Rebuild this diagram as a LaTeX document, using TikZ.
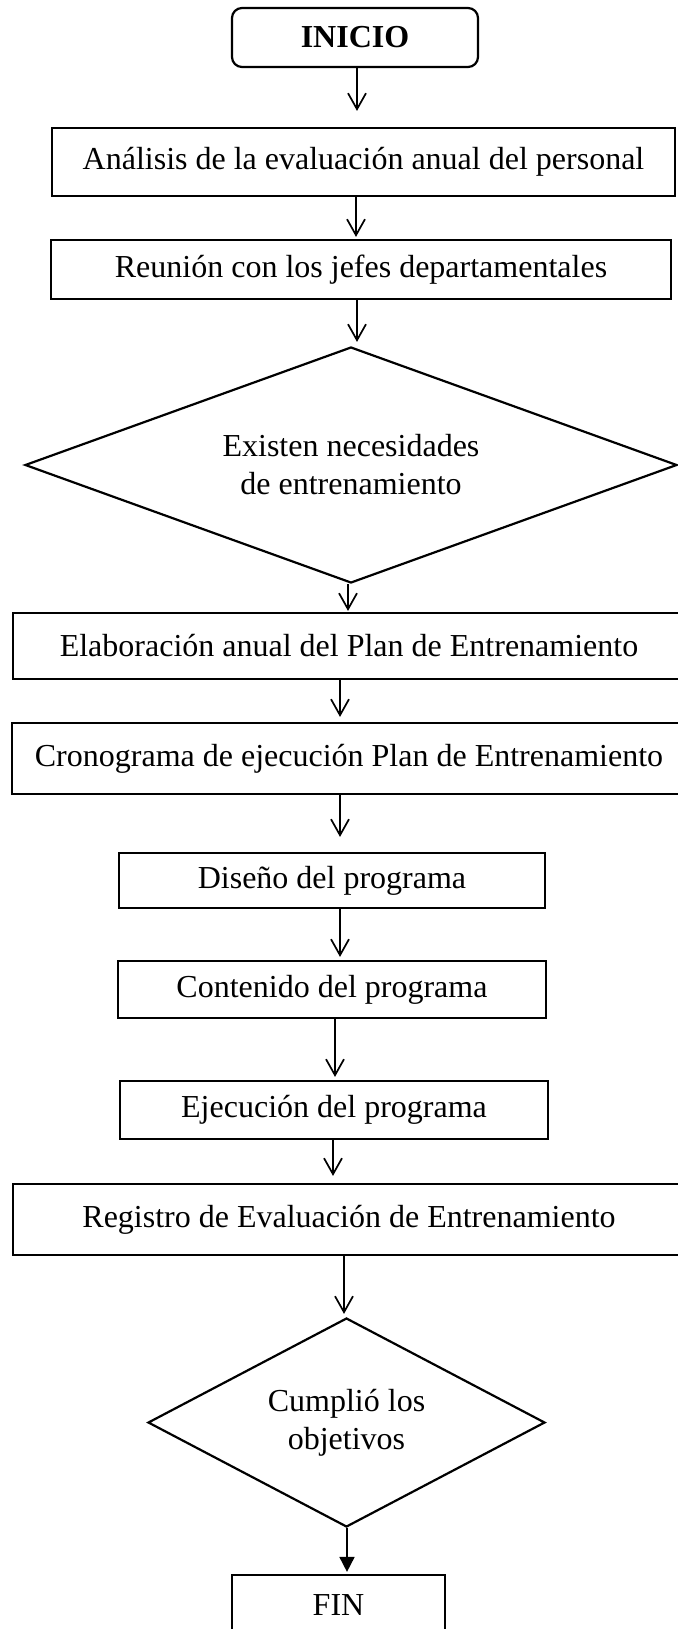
\documentclass[tikz,border=0pt]{standalone}
\usepackage{fontspec}
\setmainfont{Liberation Serif}
\usetikzlibrary{shapes.geometric,arrows.meta}

\begin{document}
\begin{tikzpicture}[
      x=0.5pt, y=-0.5pt,
      every node/.style={font=\fontsize{16pt}{19pt}\selectfont, align=center, inner sep=2pt},
      caja/.style={rectangle, draw=black, line width=1.1pt},
      inicial/.style={caja, rounded corners=5pt},
      decision/.style={diamond, draw=black, line width=1.1pt, inner sep=0pt},
      pointer/.style={line width=0.85pt, -{Straight Barb[length=8pt,width=9pt]}, draw=black},
      fpointer/.style={line width=0.85pt, -{Triangle[length=7.5pt,width=7.5pt]}, draw=black}
      ]
      \useasboundingbox (0,0) rectangle (677,1629);
      \node[inicial, minimum width=123pt, minimum height=29.5pt] (inicio) at (355,37.5) {\textbf{INICIO}};
      \node[caja, minimum width=311.5pt, minimum height=34pt] (analisis) at (363.5,162) {Análisis de la evaluación anual del personal};
      \node[caja, minimum width=310pt, minimum height=29.5pt] (reunion) at (361,269.5) {Reunión con los jefes departamentales};
      \node[decision, aspect=2.76, minimum width=326pt, minimum height=118pt] (existen) at (351,465) {Existen necesidades\\de entrenamiento};
      \node[caja, minimum width=336pt, minimum height=33pt] (elaboracion) at (349,646) {Elaboración anual del Plan de Entrenamiento};
      \node[caja, minimum width=337pt, minimum height=35.5pt] (cronograma) at (349,758.5) {Cronograma de ejecución Plan de Entrenamiento};
      \node[caja, minimum width=213pt, minimum height=27.5pt] (diseno) at (332,880.5) {Diseño del programa};
      \node[caja, minimum width=214pt, minimum height=28.5pt] (contenido) at (332,989.5) {Contenido del programa};
      \node[caja, minimum width=214pt, minimum height=29pt] (ejecucion) at (334,1110) {Ejecución del programa};
      \node[caja, minimum width=336pt, minimum height=35.5pt] (registro) at (349,1219.5) {Registro de Evaluación de Entrenamiento};
      \node[decision, aspect=1.9, minimum width=198.5pt, minimum height=104.5pt] (cumplio) at (346.5,1422.5) {Cumplió los\\objetivos};
      \node[caja, minimum width=106.5pt, minimum height=30pt] (fin) at (338.5,1605) {FIN};
      \path ([xshift=1pt]inicio.south) edge [pointer, shorten >=8pt] ([xshift=1pt]inicio.south |- analisis.north);
      \path ([xshift=-3.75pt]analisis.south) edge [pointer, shorten >=1pt] ([xshift=-3.75pt]analisis.south |- reunion.north);
      \path ([xshift=-2pt]reunion.south) edge [pointer, shorten >=2pt] ([xshift=-2pt]reunion.south |- existen.north);
      \path ([xshift=-1.5pt]existen.south) edge [pointer, shorten >=0.5pt] ([xshift=-1.5pt]existen.south |- elaboracion.north);
      \path ([xshift=-4.5pt]elaboracion.south) edge [pointer, shorten >=2.5pt] ([xshift=-4.5pt]elaboracion.south |- cronograma.north);
      \path ([xshift=-4.5pt]cronograma.south) edge [pointer, shorten >=7.5pt] ([xshift=-4.5pt]cronograma.south |- diseno.north);
      \path ([xshift=4pt]diseno.south) edge [pointer, shorten >=1.5pt] ([xshift=4pt]diseno.south |- contenido.north);
      \path ([xshift=1.5pt]contenido.south) edge [pointer, shorten >=1.5pt] ([xshift=1.5pt]contenido.south |- ejecucion.north);
      \path ([xshift=-0.5pt]ejecucion.south) edge [pointer, shorten >=3.5pt] ([xshift=-0.5pt]ejecucion.south |- registro.north);
      \path ([xshift=-2.5pt]registro.south) edge [pointer, shorten >=1.5pt] ([xshift=-2.5pt]registro.south |- cumplio.north);
      \path ([xshift=0.25pt]cumplio.south) edge [fpointer, shorten >=1pt] ([xshift=0.25pt]cumplio.south |- fin.north);
\end{tikzpicture}
\end{document}
